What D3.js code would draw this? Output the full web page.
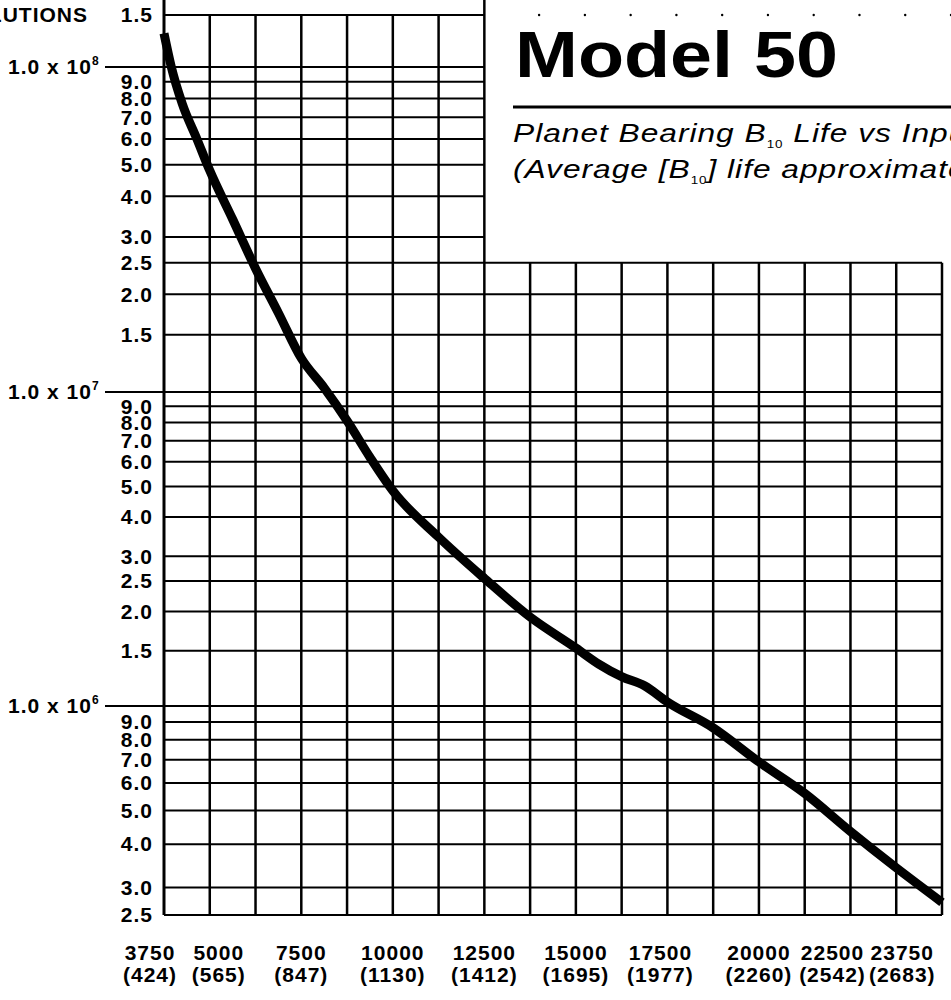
<!DOCTYPE html>
<html>
<head>
<meta charset="utf-8">
<script src="https://cdn.jsdelivr.net/npm/d3@7/dist/d3.min.js"></script>
<style>
  body { margin: 0; background: #fff; }
  svg { display: block; font-family: "Liberation Sans", Arial, sans-serif; }
  .tick-label { font-size: 21px; font-weight: bold; letter-spacing: 1px; fill: #000; }
  .title { font-size: 64px; font-weight: bold; fill: #000; }
  .subtitle { font-size: 26px; font-style: italic; letter-spacing: 0.8px; fill: #000; }
</style>
</head>
<body>
<div id="chart"></div>
<script>
// Input speed (rpm) vs planet bearing B10 life (revolutions)
const speedRpm = [3750, 3950, 4250, 4650, 5000, 5625, 6250, 6875, 7500, 8125, 8750, 9375,
                  10000, 11250, 12500, 13750, 15000, 15625, 16250, 16875, 17500, 18750,
                  20000, 21250, 22500, 23750, 25000];
const lifeRevs = [1.3e8, 1.0e8, 7.7e7, 6.0e7, 4.8e7, 3.4e7, 2.4e7, 1.75e7, 1.27e7, 1.03e7, 8.1e6, 6.2e6,
                  4.85e6, 3.45e6, 2.55e6, 1.92e6, 1.53e6, 1.36e6, 1.24e6, 1.16e6, 1.03e6, 8.65e5,
                  6.9e5, 5.6e5, 4.35e5, 3.42e5, 2.72e5];

// X axis labels: speed, and the figure printed in brackets under it
const xTickValues = [3750, 5000, 7500, 10000, 12500, 15000, 17500, 20000, 22500, 23750];
const xTickSub = [424, 565, 847, 1130, 1412, 1695, 1977, 2260, 2542, 2683];

// Y axis: decade lines get the long "1.0 x 10^n" label, the rest just the mantissa
const yMajorTicks = [1e8, 1e7, 1e6];
const yMinorTicks = [1.5e8, 9e7, 8e7, 7e7, 6e7, 5e7, 4e7, 3e7, 2.5e7, 2e7, 1.5e7,
                     9e6, 8e6, 7e6, 6e6, 5e6, 4e6, 3e6, 2.5e6, 2e6, 1.5e6,
                     9e5, 8e5, 7e5, 6e5, 5e5, 4e5, 3e5, 2.5e5];

const width = 951, height = 1000;
const plot = { left: 164, right: 942, top: 15, bottom: 915 };

// labels that were pushed sideways on the printed chart to stop them colliding
const labelNudge = { 3750: -14, 5000: 9, 17500: -7, 22500: -18, 23750: 6 };

const svg = d3.select("#chart")
    .append("svg")
    .attr("width", width)
    .attr("height", height);

svg.append("rect").attr("width", width).attr("height", height).attr("fill", "#fff");

const x = d3.scaleLinear().domain([3750, 25000]).range([plot.left, plot.right]);
// printed log paper isn't perfectly even, so pin each decade line
const y = d3.scaleLog()
    .domain([2.5e5, 1e6, 1e7, 1e8, 1.5e8])
    .range([plot.bottom, 706, 392, 67, plot.top]);

// corner where the title box cuts into the grid
const boxX = 12500, boxY = 2.5e7;

// vertical grid
const xGrid = d3.range(3750, 25001, 1250);
svg.append("g")
    .selectAll("line")
    .data(xGrid)
    .enter()
    .append("line")
    .attr("x1", d => x(d))
    .attr("x2", d => x(d))
    .attr("y1", d => (d === 3750 || d === boxX) ? 0 : (d > boxX ? y(boxY) : plot.top))
    .attr("y2", plot.bottom)
    .attr("stroke", "#000")
    .attr("stroke-width", d => d === 3750 ? 3 : 2.5);

// horizontal grid
const yGrid = yMajorTicks.concat(yMinorTicks);
svg.append("g")
    .selectAll("line")
    .data(yGrid)
    .enter()
    .append("line")
    .attr("x1", d => yMajorTicks.includes(d) ? 105 : plot.left)
    .attr("x2", d => d > boxY ? x(boxX) : plot.right)
    .attr("y1", d => y(d))
    .attr("y2", d => y(d))
    .attr("stroke", "#000")
    .attr("stroke-width", 2);

// faint dots left of the old top line inside the title box
svg.append("g")
    .selectAll("circle")
    .data(xGrid.filter(d => d > boxX))
    .enter()
    .append("circle")
    .attr("cx", d => x(d) + 9)
    .attr("cy", y(1.5e8))
    .attr("r", 1.2)
    .attr("fill", "#000");

// y labels
svg.append("g")
    .selectAll("text")
    .data(yMinorTicks)
    .enter()
    .append("text")
    .attr("class", "tick-label")
    .attr("x", 153)
    .attr("y", d => y(d))
    .attr("dy", "0.35em")
    .attr("text-anchor", "end")
    .text(d => (d / Math.pow(10, Math.floor(Math.log10(d)))).toFixed(1));

const major = svg.append("g")
    .selectAll("text")
    .data(yMajorTicks)
    .enter()
    .append("text")
    .attr("class", "tick-label")
    .attr("x", 8)
    .attr("y", d => y(d))
    .attr("dy", "0.35em");
major.append("tspan").text("1.0 x 10");
major.append("tspan")
    .attr("dy", -9)
    .style("font-size", "12px")
    .text(d => Math.round(Math.log10(d)));

svg.append("text")
    .attr("class", "tick-label")
    .attr("x", 88)
    .attr("y", y(1.5e8))
    .attr("dy", "0.35em")
    .attr("text-anchor", "end")
    .text("REVOLUTIONS");

// x labels, two rows
const xLab = svg.append("g")
    .selectAll("g")
    .data(xTickValues)
    .enter()
    .append("g")
    .attr("transform", d => `translate(${x(d) + (labelNudge[d] || 0)}, ${plot.bottom})`);

xLab.append("text")
    .attr("class", "tick-label")
    .attr("y", 45)
    .attr("text-anchor", "middle")
    .text(d => d);

xLab.append("text")
    .attr("class", "tick-label")
    .attr("y", 67)
    .attr("text-anchor", "middle")
    .text((d, i) => `(${xTickSub[i]})`);

// the curve
const line = d3.line()
    .x(d => x(d[0]))
    .y(d => y(d[1]))
    .curve(d3.curveMonotoneX);

svg.append("path")
    .datum(d3.zip(speedRpm, lifeRevs))
    .attr("d", line)
    .attr("fill", "none")
    .attr("stroke", "#000")
    .attr("stroke-width", 9)
    .attr("stroke-linejoin", "round");

// title block
svg.append("text")
    .attr("class", "title")
    .attr("x", 515)
    .attr("y", 77)
    .attr("textLength", 323)
    .attr("lengthAdjust", "spacingAndGlyphs")
    .text("Model 50");

svg.append("line")
    .attr("x1", 513)
    .attr("x2", width)
    .attr("y1", 107)
    .attr("y2", 107)
    .attr("stroke", "#000")
    .attr("stroke-width", 3);

// the printed subtitle type is set wide, so stretch it sideways
const sub1 = svg.append("text").attr("class", "subtitle")
    .attr("transform", "translate(513,142) scale(1.22,1)");
sub1.append("tspan").text("Planet Bearing B");
sub1.append("tspan").attr("dy", 6).style("font-size", "11px").style("font-style", "normal").text("10");
sub1.append("tspan").attr("dy", -6).text(" Life vs Input Speed");

const sub2 = svg.append("text").attr("class", "subtitle")
    .attr("transform", "translate(513,178) scale(1.22,1)");
sub2.append("tspan").text("(Average [B");
sub2.append("tspan").attr("dy", 6).style("font-size", "11px").style("font-style", "normal").text("10");
sub2.append("tspan").attr("dy", -6).text("] life approximately 5 x B10)");
</script>
</body>
</html>
